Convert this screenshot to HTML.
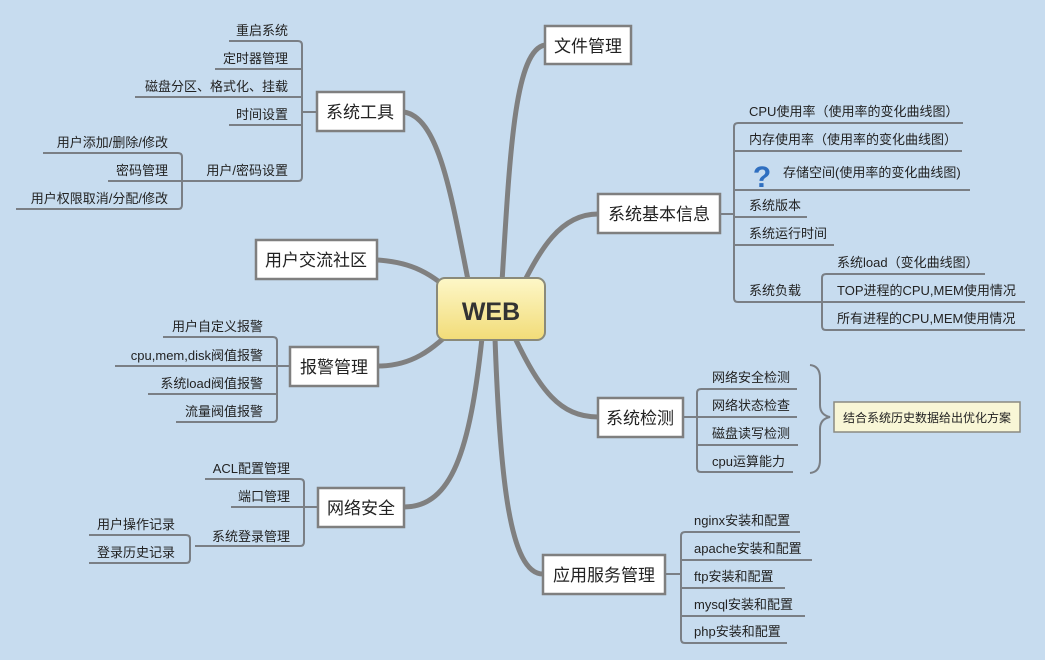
<!DOCTYPE html>
<html><head><meta charset="utf-8"><style>
html,body{margin:0;padding:0;background:#c7dcef;}
svg{display:block;}
text{font-family:"Liberation Sans","Noto Sans CJK SC",sans-serif;fill:#222;}
.t{font-size:13px;}
.m{font-size:17px;}
.ln{fill:none;stroke:#7a7f85;stroke-width:2;}
.br{fill:none;stroke:#808080;stroke-linecap:round;}
.bx{fill:#fff;stroke:#7f7f7f;stroke-width:2.5;}
</style></head><body>
<svg width="1045" height="660" viewBox="0 0 1045 660" xmlns="http://www.w3.org/2000/svg">
<defs><linearGradient id="g" x1="0" y1="0" x2="0" y2="1"><stop offset="0" stop-color="#fdf7c8"/><stop offset="1" stop-color="#f2dc78"/></linearGradient></defs>
<rect width="1045" height="660" fill="#c7dcef"/>
<!-- main branches -->
<g class="br" stroke-width="5">
<path d="M470,290 C452,200 440,118 404,112"/>
<path d="M460,300 C432,272 410,262 377,260"/>
<path d="M460,322 C432,352 410,366 378,366"/>
<path d="M482,338 C470,450 452,507 404,507"/>
<path d="M502,282 C510,150 515,50 545,45"/>
<path d="M520,290 C540,250 560,214 598,214"/>
<path d="M515,338 C540,390 560,417 598,417"/>
<path d="M495,338 C500,480 510,574 543,574"/>
</g>
<!-- WEB -->
<rect x="437" y="278" width="108" height="62" rx="8" fill="url(#g)" stroke="#8a8a7a" stroke-width="2"/>
<text x="491" y="320" text-anchor="middle" style="font-size:25px;font-weight:bold;fill:#333">WEB</text>

<!-- 系统工具 -->
<rect class="bx" x="317" y="92" width="87" height="39"/>
<text class="m" x="360" y="118" text-anchor="middle">系统工具</text>
<path class="ln" d="M229,41 H298 Q302,41 302,45 V177 Q302,181 298,181 H182"/>
<path class="ln" d="M215,69 H302 M135,97 H302 M229,125 H302 M302,112 H316"/>
<text class="t" x="288" y="35" text-anchor="end">重启系统</text>
<text class="t" x="288" y="63" text-anchor="end">定时器管理</text>
<text class="t" x="288" y="91" text-anchor="end">磁盘分区、格式化、挂载</text>
<text class="t" x="288" y="119" text-anchor="end">时间设置</text>
<text class="t" x="288" y="175" text-anchor="end">用户/密码设置</text>
<path class="ln" d="M43,153 H178 Q182,153 182,157 V205 Q182,209 178,209 H16 M108,181 H182"/>
<text class="t" x="168" y="147" text-anchor="end">用户添加/删除/修改</text>
<text class="t" x="168" y="175" text-anchor="end">密码管理</text>
<text class="t" x="168" y="203" text-anchor="end">用户权限取消/分配/修改</text>

<!-- 用户交流社区 -->
<rect class="bx" x="256" y="240" width="121" height="39"/>
<text class="m" x="316" y="266" text-anchor="middle">用户交流社区</text>

<!-- 报警管理 -->
<rect class="bx" x="290" y="347" width="88" height="39"/>
<text class="m" x="334" y="373" text-anchor="middle">报警管理</text>
<path class="ln" d="M163,337 H273 Q277,337 277,341 V418 Q277,422 273,422 H176 M115,366 H289 M148,394 H277"/>
<text class="t" x="263" y="331" text-anchor="end">用户自定义报警</text>
<text class="t" x="263" y="360" text-anchor="end">cpu,mem,disk阀值报警</text>
<text class="t" x="263" y="388" text-anchor="end">系统load阀值报警</text>
<text class="t" x="263" y="416" text-anchor="end">流量阀值报警</text>

<!-- 网络安全 -->
<rect class="bx" x="318" y="488" width="86" height="39"/>
<text class="m" x="361" y="514" text-anchor="middle">网络安全</text>
<path class="ln" d="M205,479 H300 Q304,479 304,483 V542 Q304,546 300,546 H195 M231,507 H317"/>
<text class="t" x="290" y="473" text-anchor="end">ACL配置管理</text>
<text class="t" x="290" y="501" text-anchor="end">端口管理</text>
<text class="t" x="290" y="541" text-anchor="end">系统登录管理</text>
<path class="ln" d="M89,535 H186 Q190,535 190,539 V559 Q190,563 186,563 H89"/>
<text class="t" x="175" y="529" text-anchor="end">用户操作记录</text>
<text class="t" x="175" y="557" text-anchor="end">登录历史记录</text>

<!-- 文件管理 -->
<rect class="bx" x="545" y="26" width="86" height="38"/>
<text class="m" x="588" y="52" text-anchor="middle">文件管理</text>

<!-- 系统基本信息 -->
<rect class="bx" x="598" y="194" width="122" height="39"/>
<text class="m" x="659" y="220" text-anchor="middle">系统基本信息</text>
<path class="ln" d="M963,123 H738 Q734,123 734,127 V298 Q734,302 738,302 H822 M720,214 H734 M734,151 H962 M734,190 H970 M734,217 H807 M734,245 H834"/>
<text class="t" x="749" y="116">CPU使用率（使用率的变化曲线图）</text>
<text class="t" x="749" y="144">内存使用率（使用率的变化曲线图）</text>
<text class="t" x="783" y="177">存储空间(使用率的变化曲线图)</text>
<text x="762" y="187" text-anchor="middle" style="font-size:30px;font-weight:bold;fill:#2f6fc0">?</text>
<text class="t" x="749" y="210">系统版本</text>
<text class="t" x="749" y="238">系统运行时间</text>
<text class="t" x="749" y="295">系统负载</text>
<path class="ln" d="M985,274 H826 Q822,274 822,278 V326 Q822,330 826,330 H1025 M822,302 H1025"/>
<text class="t" x="837" y="267">系统load（变化曲线图）</text>
<text class="t" x="837" y="295">TOP进程的CPU,MEM使用情况</text>
<text class="t" x="837" y="323">所有进程的CPU,MEM使用情况</text>

<!-- 系统检测 -->
<rect class="bx" x="598" y="398" width="85" height="39"/>
<text class="m" x="640" y="424" text-anchor="middle">系统检测</text>
<path class="ln" d="M797,389 H701 Q697,389 697,393 V468 Q697,472 701,472 H793 M683,417 H797 M697,445 H798"/>
<text class="t" x="712" y="382">网络安全检测</text>
<text class="t" x="712" y="410">网络状态检查</text>
<text class="t" x="712" y="438">磁盘读写检测</text>
<text class="t" x="712" y="466">cpu运算能力</text>
<path d="M810,365 Q820,366 820,378 V405 Q820,415 830,417 Q820,419 820,429 V460 Q820,472 810,473" fill="none" stroke="#7a7f85" stroke-width="2"/>
<rect x="834" y="402" width="186" height="30" fill="#f8f6d6" stroke="#8a8a80" stroke-width="1.5"/>
<text x="927" y="422" text-anchor="middle" style="font-size:12px">结合系统历史数据给出优化方案</text>

<!-- 应用服务管理 -->
<rect class="bx" x="543" y="555" width="122" height="39"/>
<text class="m" x="604" y="581" text-anchor="middle">应用服务管理</text>
<path class="ln" d="M800,532 H685 Q681,532 681,536 V639 Q681,643 685,643 H787 M681,560 H812 M665,574 H681 M681,588 H785 M681,616 H805"/>
<text class="t" x="694" y="525">nginx安装和配置</text>
<text class="t" x="694" y="553">apache安装和配置</text>
<text class="t" x="694" y="581">ftp安装和配置</text>
<text class="t" x="694" y="609">mysql安装和配置</text>
<text class="t" x="694" y="636">php安装和配置</text>
</svg>
</body></html>
